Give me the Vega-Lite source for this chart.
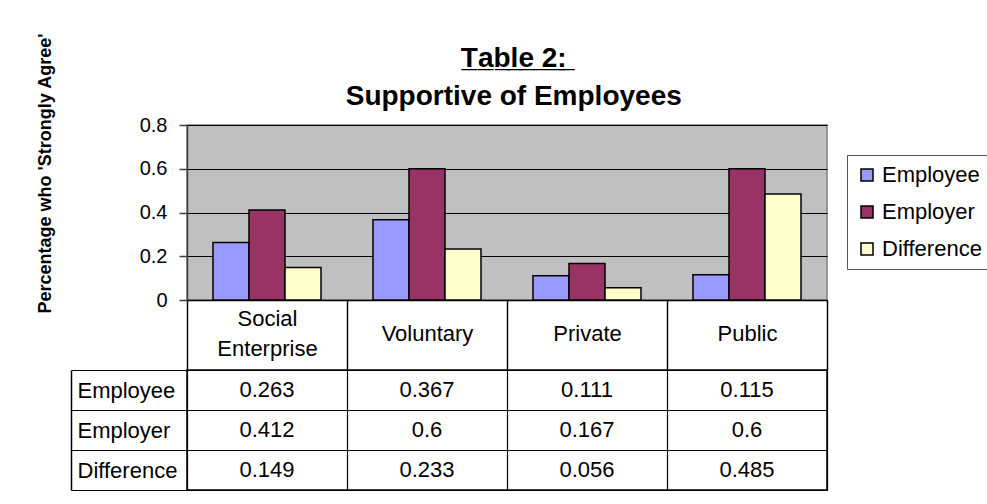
{
  "$schema": "https://vega.github.io/schema/vega-lite/v6.json",
  "padding": {"left": 35, "top": 31, "right": 0, "bottom": 0},
  "background": "white",
  "title": {
    "text": ["T̲a̲b̲l̲e̲ ̲2̲:̲", "Supportive of Employees"],
    "font": "Liberation Sans",
    "fontSize": 28,
    "fontWeight": "bold",
    "color": "black",
    "lineHeight": 38,
    "anchor": "middle",
    "offset": -79
  },
  "datasets": {
    "survey": [
      {"category": "Social Enterprise", "series": "Employee", "value": 0.263},
      {"category": "Social Enterprise", "series": "Employer", "value": 0.412},
      {"category": "Social Enterprise", "series": "Difference", "value": 0.149},
      {"category": "Voluntary", "series": "Employee", "value": 0.367},
      {"category": "Voluntary", "series": "Employer", "value": 0.6},
      {"category": "Voluntary", "series": "Difference", "value": 0.233},
      {"category": "Private", "series": "Employee", "value": 0.111},
      {"category": "Private", "series": "Employer", "value": 0.167},
      {"category": "Private", "series": "Difference", "value": 0.056},
      {"category": "Public", "series": "Employee", "value": 0.115},
      {"category": "Public", "series": "Employer", "value": 0.6},
      {"category": "Public", "series": "Difference", "value": 0.485}
    ]
  },
  "spacing": 70,
  "bounds": "flush",
  "resolve": {"scale": {"color": "independent"}, "legend": {"color": "independent"}},
  "vconcat": [
    {
      "width": 640,
      "height": 175,
      "data": {"name": "survey"},
      "view": {"fill": "#C0C0C0", "stroke": "#808080", "strokeWidth": 1.5},
      "mark": {"type": "bar", "stroke": "black", "strokeWidth": 1.5},
      "encoding": {
        "x": {
          "field": "category",
          "type": "nominal",
          "sort": ["Social Enterprise", "Voluntary", "Private", "Public"],
          "scale": {"paddingInner": 0, "paddingOuter": 0},
          "axis": {
            "title": null,
            "orient": "bottom",
            "labelAngle": 0,
            "labelFont": "Liberation Sans",
            "labelFontSize": 22,
            "labelColor": "black",
            "labelBaseline": "middle",
            "labelLineHeight": 30,
            "labelPadding": {"condition": {"test": "datum.value == 'Social Enterprise'", "value": -52}, "value": -37},
            "labelLimit": 0,
            "labelExpr": "datum.label == 'Social Enterprise' ? ['Social', 'Enterprise'] : datum.label",
            "tickBand": "extent",
            "tickSize": 70,
            "tickColor": "black",
            "tickWidth": 1.5,
            "domainColor": "black",
            "domainWidth": 1.5
          }
        },
        "xOffset": {
          "field": "series",
          "type": "nominal",
          "sort": ["Employee", "Employer", "Difference"],
          "scale": {"paddingInner": 0, "paddingOuter": 0.722}
        },
        "y": {
          "field": "value",
          "type": "quantitative",
          "scale": {"domain": [0, 0.8], "nice": false},
          "axis": {
            "values": [0, 0.2, 0.4, 0.6, 0.8],
            "labelExpr": "datum.value == 0 ? '0' : format(datum.value, '.1f')",
            "labelFont": "Liberation Sans",
            "labelFontSize": 20,
            "labelColor": "black",
            "labelPadding": 12,
            "tickSize": 8,
            "tickColor": "#404040",
            "tickWidth": 1.5,
            "domainColor": "#404040",
            "domainWidth": 1.5,
            "grid": true,
            "gridColor": "black",
            "gridWidth": 1.2,
            "title": "Percentage who 'Strongly Agree'",
            "titleFont": "Liberation Sans",
            "titleFontSize": 18,
            "titleFontWeight": "bold",
            "titleColor": "black",
            "titleAngle": -90,
            "titleX": -137,
            "titleY": 48,
            "titleAlign": "center",
            "titleBaseline": "alphabetic"
          }
        },
        "color": {
          "field": "series",
          "type": "nominal",
          "sort": ["Employee", "Employer", "Difference"],
          "scale": {"domain": ["Employee", "Employer", "Difference"], "range": ["#9999FF", "#993366", "#FFFFCC"]},
          "legend": {
            "title": null,
            "orient": "none",
            "legendX": 660,
            "legendY": 30,
            "symbolType": "square",
            "symbolSize": 144,
            "symbolStrokeColor": "black",
            "symbolStrokeWidth": 1.5,
            "symbolOpacity": 1,
            "labelFont": "Liberation Sans",
            "labelFontSize": 22,
            "labelColor": "black",
            "labelOffset": 4,
            "rowPadding": 15,
            "padding": 9,
            "strokeColor": "#555555",
            "fillColor": "white"
          }
        }
      }
    },
    {
      "width": 640,
      "height": 120,
      "data": {"name": "survey"},
      "view": {"fill": "white", "stroke": "black", "strokeWidth": 1.5},
      "mark": {"type": "text", "font": "Liberation Sans", "fontSize": 22, "color": "black", "baseline": "middle", "align": "center"},
      "encoding": {
        "x": {
          "field": "category",
          "type": "nominal",
          "sort": ["Social Enterprise", "Voluntary", "Private", "Public"],
          "scale": {"paddingInner": 0, "paddingOuter": 0},
          "axis": {
            "title": null,
            "orient": "top",
            "labels": false,
            "ticks": false,
            "domain": false,
            "grid": true,
            "tickBand": "extent",
            "gridColor": "black",
            "gridWidth": 1.2,
            "gridOpacity": 1
          }
        },
        "y": {
          "field": "series",
          "type": "nominal",
          "sort": ["Employee", "Employer", "Difference"],
          "scale": {"paddingInner": 0, "paddingOuter": 0},
          "axis": {
            "title": null,
            "orient": "left",
            "offset": 116,
            "labelFont": "Liberation Sans",
            "labelFontSize": 22,
            "labelColor": "black",
            "labelAlign": "left",
            "labelBaseline": "middle",
            "labelPadding": 110,
            "tickBand": "extent",
            "tickSize": -116,
            "tickColor": "black",
            "tickWidth": 1.2,
            "domainColor": "black",
            "domainWidth": 1.5,
            "grid": true,
            "gridColor": "black",
            "gridWidth": 1.2,
            "gridOpacity": 1
          }
        },
        "text": {"field": "value", "type": "nominal"}
      }
    }
  ]
}
